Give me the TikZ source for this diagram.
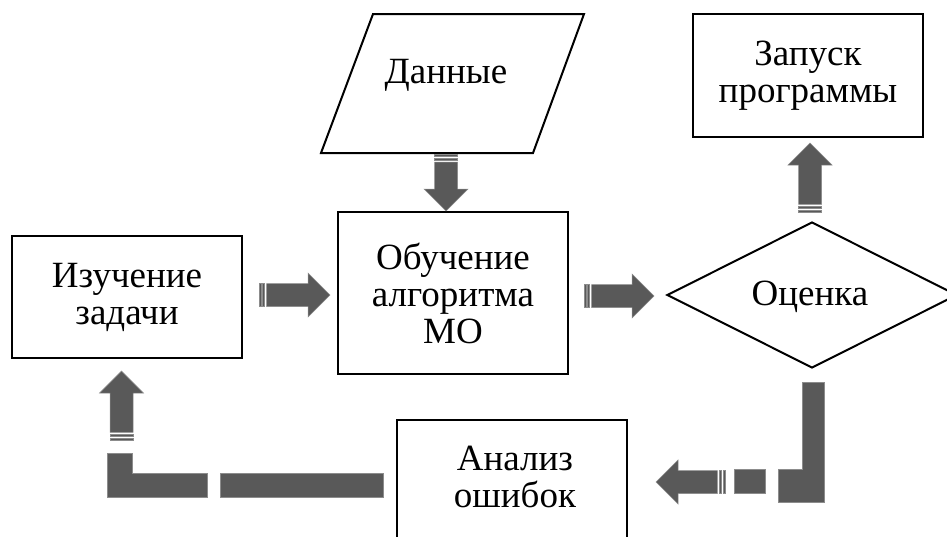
\documentclass[tikz,border=0pt]{standalone}
\usepackage{fontspec}
\setmainfont{Liberation Serif}
\usetikzlibrary{shapes.geometric,calc}
\definecolor{arrowgray}{HTML}{595959}
\definecolor{arrowedge}{HTML}{8C8C8C}
\tikzset{
  txt/.style={inner sep=0pt, align=center, font=\fontsize{37}{37}\selectfont},
  box/.style={txt, draw=black, line width=2pt, rectangle, minimum width=230},
  arrowfill/.style={fill=arrowgray, draw=arrowedge, line width=0.5pt},
  % striped block arrow along local x, tail at the origin, #1 = total length
  pics/stripe arrow/.style={code={
    \path[arrowfill] (0,-11.5) rectangle (1.8,11.5);
    \path[arrowfill] (3.7,-11.5) rectangle (5.7,11.5);
    \path[arrowfill] (7.7,-11.5) -- (#1-22,-11.5) -- (#1-22,-22) -- (#1,0)
      -- (#1-22,22) -- (#1-22,11.5) -- (7.7,11.5) -- cycle;
  }}
}
\begin{document}
\begin{tikzpicture}[x=1pt,y=-1pt]
\useasboundingbox (0,0) rectangle (947,536);
\clip (0,0) rectangle (947,536);

% blocks
\node[box, minimum height=122] (study) at (127,297) {Изучение\\задачи};
\node[box, minimum height=162] (train) at (453,293) {Обучение\\алгоритма\\МО};
\node[box, minimum height=123] (run) at (808,75.5) {Запуск\\программы};
\node[box, minimum height=126] (analysis) at (512,483) {};
\node[txt] (analysistext) at (515,477) {Анализ\\ошибок};

% data block: a parallelogram round its label
\node[txt, anchor=base] (data) at (446,83) {Данные};
\draw[line width=2pt, line join=miter] (373,14) -- (584,14) -- (533,153) -- (321,153) -- cycle;

\node[draw=black, line width=2pt, diamond, aspect=2, minimum width=290,
      minimum height=146, inner sep=0pt] (eval) at (812,295) {};
\node[txt, anchor=base] (evaltext) at (810,305) {Оценка};

% striped arrows between blocks
\pic at ($(study.east)+(16,-2)$) {stripe arrow=71};
\pic at ($(train.east)+(15,3)$) {stripe arrow=70};
\pic[rotate=-90] at ($(train.north)+(-7,-56.5)$) {stripe arrow=56.5};
\pic[rotate=90] at ($(run.south)+(2,74)$) {stripe arrow=69};
\pic[rotate=180] at ($(analysis.north east)+(97,63)$) {stripe arrow=69};
\pic[rotate=90] at ($(study.south)+(-5.5,81)$) {stripe arrow=69};

% broken elbow pieces of the return path
\path[arrowfill] (802,382) -- (824,382) -- (824,502) -- (778,502) -- (778,469)
  -- (802,469) -- cycle;
\path[arrowfill] (734,469) rectangle (765,493);
\path[arrowfill] (107,453) -- (132,453) -- (132,473) -- (207,473) -- (207,497)
  -- (107,497) -- cycle;
\path[arrowfill] (220,473) rectangle (383,497);
\end{tikzpicture}
\end{document}
